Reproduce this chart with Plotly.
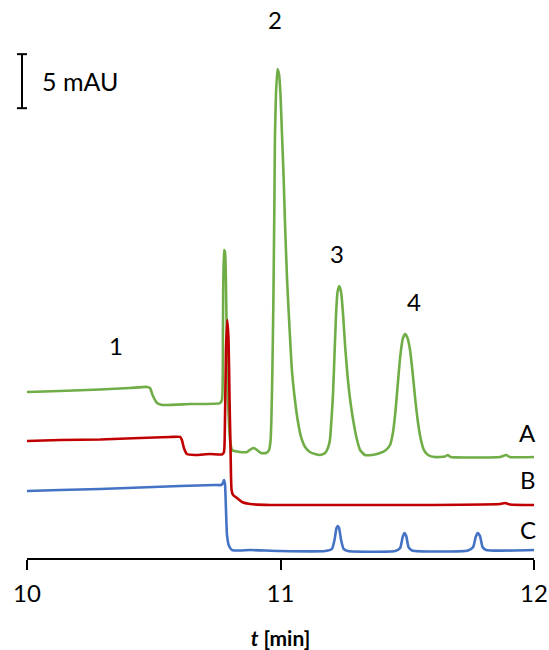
import plotly.graph_objects as go

# Retention time (min) and absorbance (mAU, traces stacked with offsets)
time_a = [10.000, 10.130, 10.288, 10.406, 10.473, 10.485, 10.497, 10.513, 10.533, 10.643,
          10.761, 10.769, 10.773, 10.777, 10.781, 10.787, 10.793, 10.801, 10.809, 10.840,
          10.868, 10.884, 10.895, 10.907, 10.923, 10.943, 10.955, 10.961, 10.964, 10.968,
          10.972, 10.976, 10.978, 10.982, 10.988, 10.994, 11.000, 11.006, 11.012, 11.018,
          11.026, 11.036, 11.045, 11.057, 11.069, 11.081, 11.097, 11.116, 11.136, 11.156,
          11.176, 11.187, 11.195, 11.201, 11.207, 11.213, 11.219, 11.225, 11.232, 11.239,
          11.247, 11.256, 11.266, 11.278, 11.290, 11.302, 11.314, 11.333, 11.361, 11.393,
          11.416, 11.432, 11.444, 11.454, 11.464, 11.473, 11.483, 11.492, 11.501, 11.511,
          11.521, 11.531, 11.542, 11.554, 11.566, 11.582, 11.609, 11.649, 11.660, 11.672,
          11.748, 11.866, 11.890, 11.905, 12.000]
signal_a = [14.72, 14.81, 14.95, 15.09, 15.19, 15.09, 14.35, 13.70, 13.52, 13.61,
            13.70, 13.98, 20.46, 27.87, 27.69, 21.39, 13.98, 10.28, 9.35, 9.17,
            9.17, 9.44, 9.54, 9.35, 9.07, 9.07, 9.35, 10.28, 12.13, 16.76,
            23.24, 32.50, 38.06, 42.22, 44.63, 44.17, 42.22, 38.52, 34.81, 30.19,
            25.09, 20.46, 16.76, 13.98, 11.94, 10.56, 9.63, 9.17, 8.98, 8.89,
            9.07, 9.54, 10.28, 12.13, 14.44, 18.15, 21.85, 23.98, 24.54, 23.98,
            21.85, 18.61, 15.83, 13.43, 11.67, 10.28, 9.35, 8.89, 8.89, 9.07,
            9.35, 9.81, 11.02, 13.06, 15.83, 18.15, 19.72, 20.09, 19.72, 18.61,
            16.57, 14.17, 11.94, 10.28, 9.35, 8.89, 8.70, 8.75, 8.89, 8.70,
            8.66, 8.70, 8.89, 8.70, 8.70]

time_b = [10.000, 10.130, 10.288, 10.446, 10.564, 10.604, 10.611, 10.619, 10.631, 10.663,
          10.722, 10.769, 10.777, 10.781, 10.785, 10.790, 10.795, 10.799, 10.803, 10.807,
          10.813, 10.828, 10.848, 10.880, 10.959, 11.156, 11.550, 11.866, 11.886, 11.905,
          12.000]
signal_b = [10.19, 10.28, 10.32, 10.46, 10.56, 10.56, 10.28, 9.54, 8.98, 8.89,
            8.98, 8.94, 9.17, 12.13, 18.61, 21.39, 19.54, 13.98, 9.35, 5.65,
            5.19, 4.91, 4.54, 4.35, 4.26, 4.26, 4.26, 4.35, 4.44, 4.31,
            4.26]

time_c = [10.000, 10.130, 10.288, 10.446, 10.604, 10.742, 10.765, 10.773, 10.777, 10.781,
          10.785, 10.789, 10.797, 10.809, 10.840, 10.880, 10.998, 11.176, 11.203, 11.213,
          11.221, 11.226, 11.231, 11.239, 11.249, 11.266, 11.452, 11.472, 11.482, 11.489,
          11.496, 11.505, 11.519, 11.740, 11.760, 11.770, 11.778, 11.787, 11.797, 11.811,
          12.000]
signal_c = [5.56, 5.65, 5.74, 5.88, 6.02, 6.11, 6.11, 6.30, 6.57, 6.20,
            3.80, 1.48, 0.46, 0.09, 0.05, 0.09, 0.00, 0.00, 0.19, 1.02,
            2.13, 2.31, 2.13, 1.02, 0.19, 0.00, 0.00, 0.28, 1.30, 1.67,
            1.39, 0.37, 0.05, 0.05, 0.37, 1.30, 1.67, 1.39, 0.37, 0.09,
            0.09]

trace_names = ["A", "B", "C"]
trace_colors = ["#70AD47", "#C00000", "#4472C4"]

peak_labels = ["1", "2", "3", "4"]
peak_label_t = [10.351, 10.978, 11.223, 11.527]
peak_label_y = [19.05, 49.25, 27.55, 23.10]

trace_label_t = 11.976
trace_label_y = [10.95, 6.60, 1.97]

scale_bar_low = 41.0
scale_bar_mau = 5

x_ticks = [10, 11, 12]

FONT = "Lato"

fig = go.Figure()
for t, s, name, color in zip([time_a, time_b, time_c], [signal_a, signal_b, signal_c],
                             trace_names, trace_colors):
    fig.add_trace(go.Scatter(x=t, y=s, mode="lines", name=name,
                             line=dict(color=color, width=2.6, shape="spline", smoothing=0.5),
                             showlegend=False, hoverinfo="skip"))

annotations = []
for lab, t, y in zip(peak_labels, peak_label_t, peak_label_y):
    annotations.append(dict(x=t, y=y, xref="x", yref="y", text=lab, showarrow=False,
                            font=dict(family=FONT, size=24, color="black"),
                            xanchor="center", yanchor="middle"))
for name, y in zip(trace_names, trace_label_y):
    annotations.append(dict(x=trace_label_t, y=y, xref="x", yref="y", text=name, showarrow=False,
                            font=dict(family=FONT, size=24, color="black"),
                            xanchor="center", yanchor="middle"))
annotations.append(dict(x=0.0256, y=scale_bar_low + scale_bar_mau / 2, xref="paper", yref="y",
                        text=f"{scale_bar_mau} mAU", showarrow=False,
                        font=dict(family=FONT, size=25, color="black"),
                        xanchor="left", yanchor="middle"))

bar_x = -0.0099
cap_half = 0.0099
shapes = [
    dict(type="line", xref="paper", yref="y", x0=bar_x, x1=bar_x,
         y0=scale_bar_low, y1=scale_bar_low + scale_bar_mau, line=dict(color="black", width=2)),
    dict(type="line", xref="paper", yref="y", x0=bar_x - cap_half, x1=bar_x + cap_half,
         y0=scale_bar_low, y1=scale_bar_low, line=dict(color="black", width=2)),
    dict(type="line", xref="paper", yref="y", x0=bar_x - cap_half, x1=bar_x + cap_half,
         y0=scale_bar_low + scale_bar_mau, y1=scale_bar_low + scale_bar_mau,
         line=dict(color="black", width=2)),
]

fig.update_layout(
    width=549, height=650,
    margin=dict(l=27, r=15, t=10, b=92),
    paper_bgcolor="white", plot_bgcolor="white",
    annotations=annotations, shapes=shapes,
    xaxis=dict(range=[10, 12], tickvals=x_ticks, ticktext=[str(v) for v in x_ticks],
               automargin=False,
               showline=True, linecolor="black", linewidth=1.5,
               ticks="outside", ticklen=10, tickwidth=1.5, tickcolor="black",
               ticklabelstandoff=3,
               showgrid=False, zeroline=False,
               tickfont=dict(family=FONT, size=24, color="black"),
               title=dict(text="<b><i>t</i> [min]</b>", font=dict(family=FONT, size=21, color="black"),
                          standoff=27)),
    yaxis=dict(range=[-0.648, 50.09], visible=False, showgrid=False, zeroline=False,
               automargin=False),
)

fig.write_html("out.html")
